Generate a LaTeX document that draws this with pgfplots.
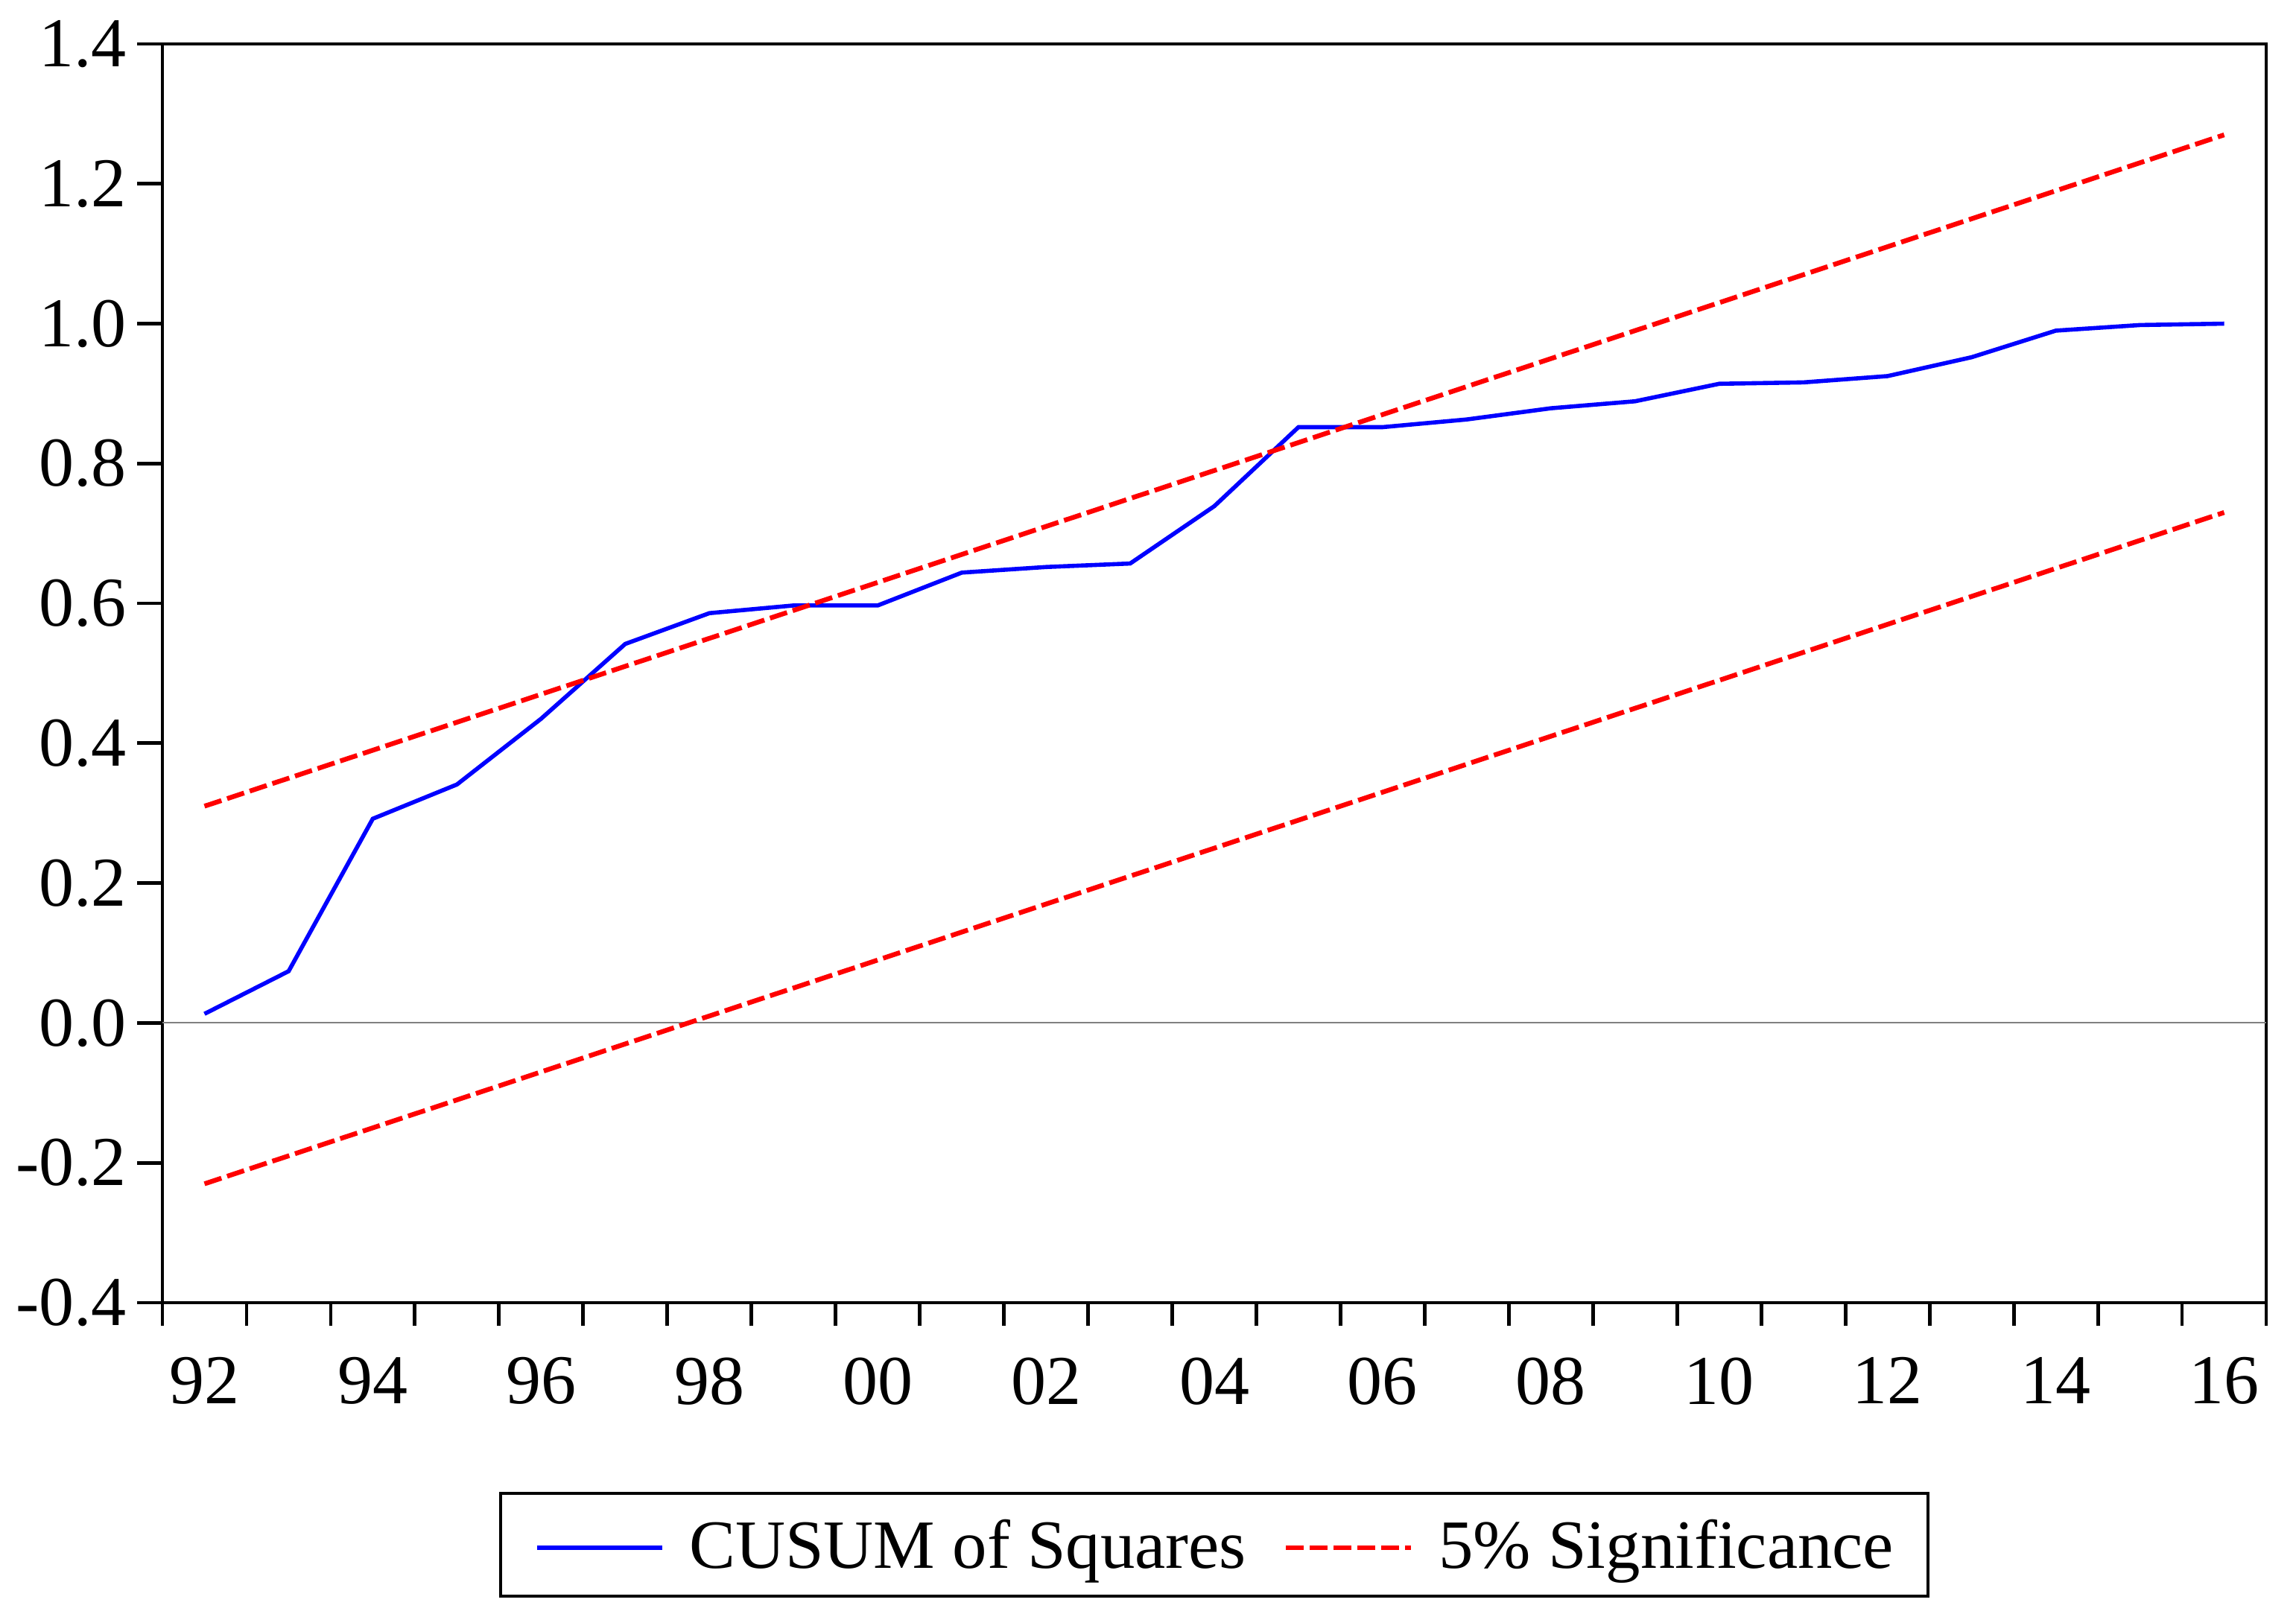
\documentclass[border=0pt]{standalone}
\usepackage{fontspec}
\setmainfont{Liberation Serif}
\usepackage{pgfplots}
\pgfplotsset{compat=1.18}
\definecolor{evblue}{RGB}{0,0,255}
\definecolor{evred}{RGB}{255,0,0}
\begin{document}
\begin{tikzpicture}
\useasboundingbox (0,0) rectangle (770.5pt,542.75pt);
\begin{axis}[
  at={(54.5pt,105.5pt)}, anchor=south west,
  scale only axis, width=706pt, height=422.5pt,
  xmin=1991.5, xmax=2016.5, ymin=-0.4, ymax=1.4,
  axis line style={line width=1.2pt, black},
  xtick={1992,1994,1996,1998,2000,2002,2004,2006,2008,2010,2012,2014,2016},
  xticklabels={92,94,96,98,00,02,04,06,08,10,12,14,16},
  minor xtick={1991.5,1992.5,1993.5,1994.5,1995.5,1996.5,1997.5,1998.5,1999.5,2000.5,2001.5,2002.5,2003.5,2004.5,2005.5,2006.5,2007.5,2008.5,2009.5,2010.5,2011.5,2012.5,2013.5,2014.5,2015.5,2016.5},
  ytick={-0.4,-0.2,0,0.2,0.4,0.6,0.8,1.0,1.2,1.4},
  yticklabels={-0.4,-0.2,0.0,0.2,0.4,0.6,0.8,1.0,1.2,1.4},
  xtick pos=bottom, ytick pos=left,
  tick align=outside,
  major tick length=8.5pt, minor tick length=7.7pt,
  tick style={line width=1.2pt, black},
  major x tick style={draw=none},
  ticklabel style={font=\fontsize{23.5}{28}\selectfont},
  xticklabel style={yshift=-6.4pt},
  legend style={at={(0.5,-0.1923)}, anchor=center, legend columns=2,
    draw=black, line width=1pt, inner xsep=11.5pt, inner ysep=3.25pt,
    font=\fontsize{23.2}{28}\selectfont,
    nodes={inner sep=0pt, text height=22pt, text depth=6pt},
    /tikz/every odd column/.append style={column sep=8.5pt},
    /tikz/every even column/.append style={column sep=12.5pt}},
  legend image code/.code={\draw[#1] (0pt,-1pt) -- (42pt,-1pt);},
]
\addplot[gray, line width=0.5pt, forget plot] coordinates {(1991.5,0) (2016.5,0)};
\addplot[evblue, line width=1.4pt] coordinates {
(1992,0.013) (1993,0.074) (1994,0.292) (1995,0.341) (1996,0.435)
(1997,0.542) (1998,0.586) (1999,0.597) (2000,0.597) (2001,0.644)
(2002,0.652) (2003,0.657) (2004,0.739) (2005,0.852) (2006,0.852)
(2007,0.863) (2008,0.879) (2009,0.889) (2010,0.914) (2011,0.916)
(2012,0.925) (2013,0.952) (2014,0.990) (2015,0.998) (2016,1.000)};
\addlegendentry{CUSUM of Squares}
\addplot[evred, line width=1.6pt, dash pattern=on 6pt off 2pt] coordinates {
(1992,0.31) (1993,0.35) (1994,0.39) (1995,0.43) (1996,0.47)
(1997,0.51) (1998,0.55) (1999,0.59) (2000,0.63) (2001,0.67)
(2002,0.71) (2003,0.75) (2004,0.79) (2005,0.83) (2006,0.87)
(2007,0.91) (2008,0.95) (2009,0.99) (2010,1.03) (2011,1.07)
(2012,1.11) (2013,1.15) (2014,1.19) (2015,1.23) (2016,1.27)};
\addlegendentry{5\% Significance}
\addplot[evred, line width=1.6pt, dash pattern=on 6pt off 2pt, forget plot] coordinates {
(1992,-0.23) (1993,-0.19) (1994,-0.15) (1995,-0.11) (1996,-0.07)
(1997,-0.03) (1998,0.01) (1999,0.05) (2000,0.09) (2001,0.13)
(2002,0.17) (2003,0.21) (2004,0.25) (2005,0.29) (2006,0.33)
(2007,0.37) (2008,0.41) (2009,0.45) (2010,0.49) (2011,0.53)
(2012,0.57) (2013,0.61) (2014,0.65) (2015,0.69) (2016,0.73)};
\end{axis}
\end{tikzpicture}
\end{document}
